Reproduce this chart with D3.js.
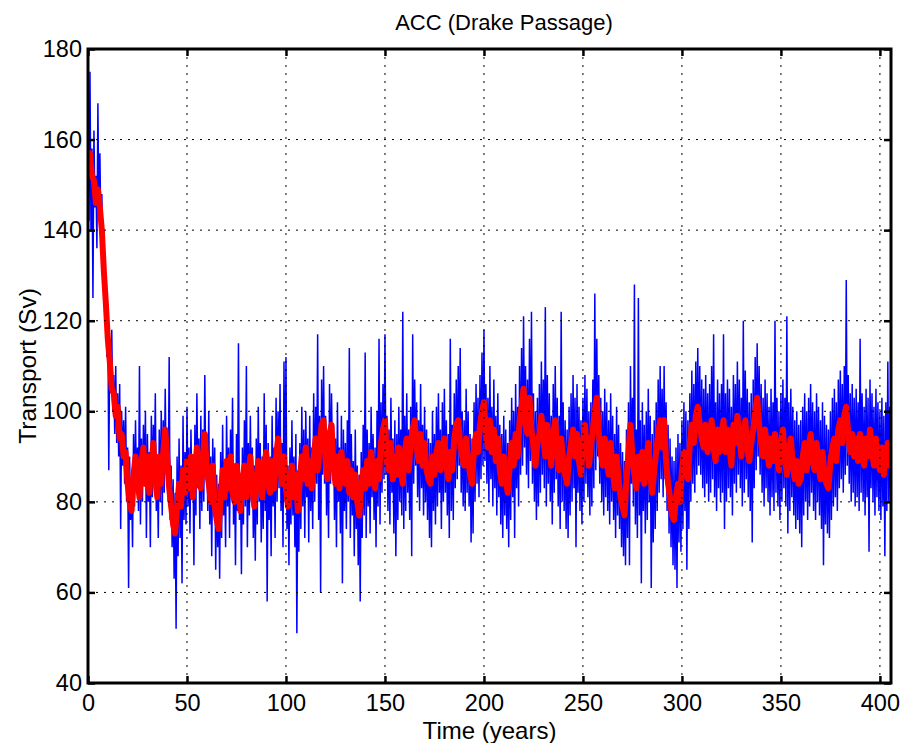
<!DOCTYPE html>
<html>
<head>
<meta charset="utf-8">
<script src="https://cdn.jsdelivr.net/npm/d3@7"></script>
<style>
  html, body { margin: 0; padding: 0; background: #fff; }
  svg { display: block; }
  text { font-family: "Liberation Sans", Arial, Helvetica, sans-serif; fill: #000; }
</style>
</head>
<body>
<svg id="chart" width="901" height="743"></svg>
<script>
// ---------------- DATA ----------------
const title = "ACC (Drake Passage)";
const xLabel = "Time (years)";
const yLabel = "Transport (Sv)";
const xTicks = [0, 50, 100, 150, 200, 250, 300, 350, 400];
const yTicks = [40, 60, 80, 100, 120, 140, 160, 180];
const xDomain = [0, 405.6];
const yDomain = [40, 180];

// raw transport, sampled every half year (Sv)
const rawStep = 0.5;
const rawTransport = [
150,142,175,140,158,125,162,145,152,136,168,142,157,140,148,130,138,121,129,112,
122,87,116,104,118,100,108,95,110,93,104,90,106,74,100,88,98,84,101,80,
92,61,90,76,85,70,95,79,98,82,92,78,110,75,94,80,97,84,100,72,
95,80,91,70,99,81,97,85,104,78,89,72,96,80,100,77,98,82,105,86,
96,80,112,76,88,70,85,63,82,52,90,68,94,72,88,62,99,76,91,75,
101,79,92,73,96,81,90,66,97,77,104,83,94,74,99,78,96,80,108,85,
95,78,100,75,90,68,94,79,92,65,86,70,84,63,91,72,97,77,89,70,
99,79,92,72,96,81,103,75,88,66,95,78,115,76,86,64,92,75,98,79,
110,70,93,77,99,80,92,72,88,67,94,75,101,80,93,71,90,74,104,78,
97,58,93,76,90,68,99,79,92,72,103,80,100,83,106,78,93,70,111,80,
112,74,88,66,92,75,98,77,90,70,95,51,87,69,93,74,101,79,96,72,
100,81,94,71,99,78,92,74,104,80,101,84,117,76,99,60,107,86,110,84,
99,77,95,72,106,84,104,88,97,76,94,70,102,80,92,73,99,62,96,78,
93,74,98,80,114,72,95,77,89,68,96,74,88,66,86,58,91,72,97,77,
113,72,96,79,93,73,101,81,95,76,92,70,100,79,116,75,102,82,106,85,
117,86,99,78,96,75,103,82,94,73,98,68,95,76,101,80,96,77,122,74,
99,78,104,82,96,76,101,68,117,84,107,88,102,81,98,78,106,83,97,77,
101,80,96,76,94,72,93,70,100,78,95,75,101,79,104,82,96,74,102,80,
105,82,98,77,95,72,116,78,97,76,104,83,107,85,110,88,114,82,100,79,
98,78,105,82,100,79,95,71,94,73,102,80,106,84,103,81,108,85,113,88,
118,89,106,84,103,80,110,85,101,79,107,83,99,77,104,81,97,75,95,72,
99,77,96,74,93,70,98,76,103,81,100,72,106,83,101,79,110,86,114,88,
121,92,110,86,107,83,116,89,122,84,104,80,100,76,103,79,106,82,111,86,
107,83,123,79,108,84,104,80,99,75,106,82,110,85,103,79,99,74,122,80,
102,78,98,74,96,72,101,77,104,80,108,83,103,70,106,82,101,78,98,75,
103,80,108,84,105,81,100,77,102,79,107,83,126,87,116,90,108,84,103,80,
100,77,105,81,102,78,98,75,104,80,99,76,95,72,101,77,97,74,93,70,
91,68,89,66,96,72,102,66,110,84,103,79,128,75,96,72,125,77,98,62,
102,78,97,73,100,76,105,80,99,61,95,71,98,74,102,78,107,82,110,85,
105,81,110,85,102,78,97,73,94,70,90,66,89,65,92,61,95,71,93,69,
98,74,102,78,100,65,98,74,104,80,109,84,106,82,111,86,114,88,110,86,
107,83,105,81,108,84,104,80,106,82,110,85,117,81,102,78,107,83,104,80,
106,82,117,74,104,80,107,83,105,81,101,77,108,84,106,82,111,86,107,83,
103,79,120,82,109,85,105,81,102,78,104,71,107,83,112,87,115,90,110,86,
106,82,103,79,107,83,104,80,101,77,105,81,102,78,120,82,103,79,100,76,
104,80,107,83,103,79,121,73,102,78,105,81,101,77,98,74,100,76,97,73,
98,70,101,77,104,80,100,76,103,79,106,82,102,78,100,76,104,80,101,77,
98,74,102,66,99,75,97,73,96,72,100,76,103,79,105,81,102,78,107,83,
109,85,106,82,110,86,129,88,108,84,104,80,106,82,103,79,105,81,102,78,
116,82,104,80,101,77,105,81,103,69,107,83,104,80,101,77,105,81,102,78,
100,76,103,79,99,68,102,78,111,80,101,77
];

// smoothed transport, one value per year (Sv)
const smoothStep = 1;
const smoothTransport = [
156,157,152,151,146,149,145,140,131,124,
116,111,105,104,99,101,94,95,90,91,
84,80,78,86,90,85,81,89,92,84,
90,82,88,93,85,81,90,84,91,96,
90,83,79,75,73,79,84,79,87,82,
89,83,90,81,86,92,85,83,90,95,
87,84,80,88,79,76,74,81,87,81,
89,83,90,82,80,88,83,78,85,88,
81,86,90,83,79,84,89,84,81,88,
91,84,82,89,83,90,94,88,84,90,
83,79,84,88,81,86,78,85,90,85,
92,84,89,83,90,94,87,92,97,98,
89,85,95,97,88,84,90,83,91,86,
84,89,82,87,81,86,80,77,83,87,
83,89,84,91,86,83,89,85,93,96,
98,89,87,93,85,90,86,92,87,84,
91,94,87,93,96,98,92,89,95,88,
93,87,85,84,90,86,91,93,87,92,
94,88,85,91,87,94,97,98,93,90,
88,94,89,86,84,92,95,91,97,100,
102,95,92,98,91,96,89,94,87,84,
90,85,82,88,93,88,95,90,98,101,
105,97,95,103,96,92,88,93,95,99,
94,90,97,92,88,95,98,91,87,94,
89,86,84,90,93,96,90,95,89,86,
93,97,92,88,92,96,100,103,95,91,
88,94,89,86,93,87,83,90,85,81,
79,77,85,91,97,90,86,83,90,85,
91,84,89,93,86,82,87,91,95,98,
92,98,89,84,81,77,76,81,84,80,
87,91,87,85,93,97,93,99,101,97,
94,92,97,91,95,98,92,89,96,91,
95,98,91,96,92,88,97,93,99,94,
90,95,98,92,89,93,96,100,103,97,
93,90,96,91,88,94,89,95,90,87,
93,96,90,86,91,94,88,85,89,84,
85,90,93,87,92,95,89,87,93,88,
85,91,86,84,83,89,92,94,89,96,
98,93,99,101,95,91,95,90,94,89,
95,91,88,94,90,96,91,88,94,89,
87,92,86,91,93,88
];

// ---------------- CHART ----------------
const W = 901, H = 743;
const margin = { top: 49, right: 10, bottom: 60, left: 88 };
const iw = W - margin.left - margin.right;
const ih = H - margin.top - margin.bottom;

const svg = d3.select("#chart");
const g = svg.append("g").attr("transform", `translate(${margin.left},${margin.top})`);

const x = d3.scaleLinear().domain(xDomain).range([0, iw]);
const y = d3.scaleLinear().domain(yDomain).range([ih, 0]);

g.append("clipPath").attr("id", "clip")
  .append("rect").attr("x", 0).attr("y", 0).attr("width", iw).attr("height", ih);

const raw = rawTransport.map((v, i) => [i * rawStep, v]);
const smooth = smoothTransport.map((v, i) => [i * smoothStep, v]);

const line = d3.line().x(d => x(d[0])).y(d => y(d[1]));

const plot = g.append("g").attr("clip-path", "url(#clip)");

plot.append("path")
  .datum(raw)
  .attr("d", line)
  .attr("fill", "none")
  .attr("stroke", "#0000ff")
  .attr("stroke-width", 1.5)
  .attr("stroke-linejoin", "miter");

// grid (dotted)
const grid = g.append("g");
grid.selectAll("line.gx").data(xTicks.filter(t => t > xDomain[0]))
  .join("line").attr("class", "gx")
  .attr("x1", d => x(d)).attr("x2", d => x(d))
  .attr("y1", 0).attr("y2", ih)
  .attr("stroke", "#000").attr("stroke-width", 1)
  .attr("stroke-dasharray", "2,6");
grid.selectAll("line.gy").data(yTicks.filter(t => t > yDomain[0] && t < yDomain[1]))
  .join("line").attr("class", "gy")
  .attr("x1", 0).attr("x2", iw)
  .attr("y1", d => y(d)).attr("y2", d => y(d))
  .attr("stroke", "#000").attr("stroke-width", 1)
  .attr("stroke-dasharray", "2,6");

plot.append("path")
  .datum(smooth)
  .attr("d", line)
  .attr("fill", "none")
  .attr("stroke", "#ff0000")
  .attr("stroke-width", 6)
  .attr("stroke-linejoin", "round")
  .attr("stroke-linecap", "round");

// axes: ticks inside
const fs = 23.5;
const xAxisB = d3.axisBottom(x).tickValues(xTicks).tickSizeInner(-7).tickSizeOuter(0).tickPadding(11);
const xAxisT = d3.axisTop(x).tickValues(xTicks).tickSizeInner(-7).tickSizeOuter(0).tickFormat("");
const yAxisL = d3.axisLeft(y).tickValues(yTicks).tickSizeInner(-7).tickSizeOuter(0).tickPadding(6);
const yAxisR = d3.axisRight(y).tickValues(yTicks).tickSizeInner(-7).tickSizeOuter(0).tickFormat("");

function styleAxis(sel) {
  sel.select(".domain").remove();
  sel.selectAll(".tick line").attr("stroke", "#000").attr("stroke-width", 2.5);
  sel.selectAll(".tick text").style("font-size", fs + "px").attr("fill", "#000");
}
g.append("g").attr("transform", `translate(0,${ih})`).call(xAxisB).call(styleAxis);
g.append("g").call(xAxisT).call(styleAxis);
g.append("g").call(yAxisL).call(styleAxis);
g.append("g").attr("transform", `translate(${iw},0)`).call(yAxisR).call(styleAxis);

// frame
g.append("rect").attr("x", 0).attr("y", 0).attr("width", iw).attr("height", ih)
  .attr("fill", "none").attr("stroke", "#000").attr("stroke-width", 3);

// labels
svg.append("text").attr("x", 504).attr("y", 30)
  .attr("text-anchor", "middle").style("font-size", "22px").text(title);
svg.append("text").attr("x", margin.left + iw / 2).attr("y", 739)
  .attr("text-anchor", "middle").style("font-size", "24px").text(xLabel);
svg.append("text")
  .attr("transform", `translate(36,${margin.top + ih / 2}) rotate(-90)`)
  .attr("text-anchor", "middle").style("font-size", "24.5px").text(yLabel);
</script>
</body>
</html>
